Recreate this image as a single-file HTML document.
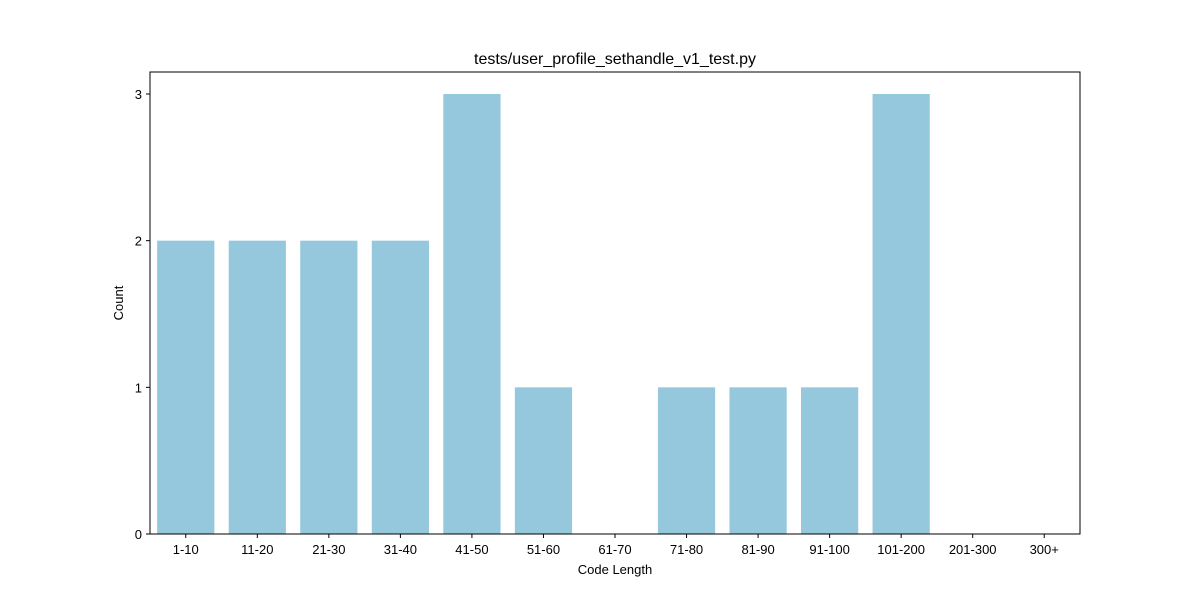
<!DOCTYPE html>
<html><head><meta charset="utf-8"><style>
body{margin:0;background:#fff;font-family:"Liberation Sans","DejaVu Sans",sans-serif}
</style></head><body>
<svg id="chart" width="1200" height="600" xmlns="http://www.w3.org/2000/svg">
<rect width="1200" height="600" fill="#fff"/>
<text x="615" y="64" text-anchor="middle" font-size="16" fill="#000">tests/user_profile_sethandle_v1_test.py</text>
<g id="bars"></g>
<g id="axes"></g>
<text x="615" y="574" text-anchor="middle" font-size="13">Code Length</text>
<text transform="translate(123,303) rotate(-90)" text-anchor="middle" font-size="13">Count</text>
</svg>
<script>
const categories=["1-10","11-20","21-30","31-40","41-50","51-60","61-70","71-80","81-90","91-100","101-200","201-300","300+"];
const counts=[2,2,2,2,3,1,0,1,1,1,3,0,0];
const yTicks=[0,1,2,3];
const NS="http://www.w3.org/2000/svg";
const L=150,R=1080,T=72,B=534,yMax=3.15;
const step=(R-L)/categories.length;
const x=i=>L+step*(i+0.5);
const y=v=>B-(B-T)*v/yMax;
const bars=document.getElementById('bars'),axes=document.getElementById('axes');
function mk(tag,a,p){const e=document.createElementNS(NS,tag);for(const k in a)e.setAttribute(k,a[k]);p.appendChild(e);return e;}
counts.forEach((v,i)=>{
  const r=mk('rect',{x:x(i)-step*0.4,y:y(v),width:step*0.8,height:B-y(v),fill:'#96c8dd'},bars);
  
  
});
const frame=mk('rect',{x:L,y:T,width:R-L,height:B-T,fill:'none',stroke:'#000','stroke-width':1},axes);


categories.forEach((c,i)=>{
  mk('line',{x1:x(i),x2:x(i),y1:B,y2:B+4,stroke:'#000'},axes);
  const t=mk('text',{x:x(i),y:B+20,'text-anchor':'middle','font-size':13},axes);
  t.textContent=c;
  
  
});
yTicks.forEach(v=>{
  mk('line',{x1:L-4,x2:L,y1:y(v),y2:y(v),stroke:'#000'},axes);
  const t=mk('text',{x:L-8,y:y(v)+5,'text-anchor':'end','font-size':13},axes);
  t.textContent=v;
  
  
});
</script>
</body></html>
